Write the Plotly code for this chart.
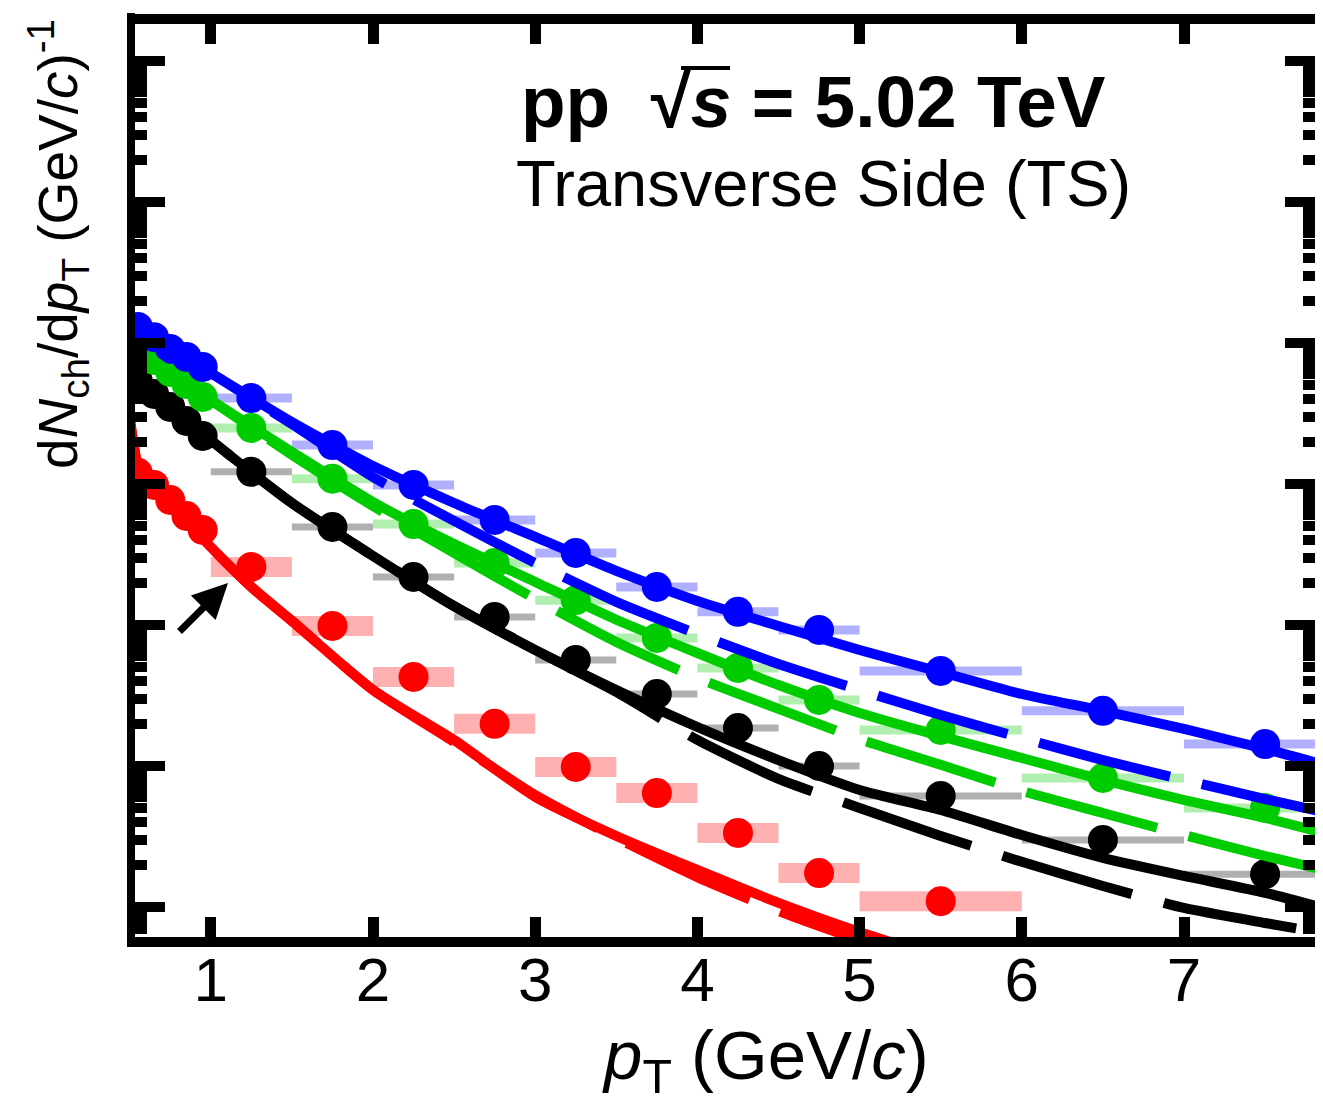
import plotly.graph_objects as go

# ---------------- data ----------------
pt_pts = [0.55, 0.65, 0.75, 0.85, 0.95, 1.25, 1.75, 2.25, 2.75, 3.25, 3.75, 4.25, 4.75, 5.5, 6.5, 7.5]
pt_half = [0.05, 0.05, 0.05, 0.05, 0.05, 0.25, 0.25, 0.25, 0.25, 0.25, 0.25, 0.25, 0.25, 0.5, 0.5, 0.5]

blue_pts = [0.130, 0.110, 0.0907, 0.0796, 0.0676, 0.0407, 0.0189, 0.00984, 0.00556, 0.00324,
            0.00186, 0.00124, 0.000922, 0.000472, 0.000246, 0.000143]
green_pts = [0.0907, 0.0758, 0.0623, 0.0512, 0.0414, 0.0250, 0.0109, 0.00520, 0.00275, 0.00150,
             0.000809, 0.000496, 0.000294, 0.000180, 8.22e-5, 5.04e-5]
black_pts = [0.0538, 0.0435, 0.0352, 0.0280, 0.0219, 0.0122, 0.00496, 0.00219, 0.00114, 0.000565,
             0.000324, 0.000186, 0.000100, 6.13e-5, 2.99e-5, 1.71e-5]
red_pts = [0.0120, 0.00984, 0.00770, 0.00593, 0.00472, 0.00258, 0.000984, 0.000428, 0.000199,
           9.84e-5, 6.43e-5, 3.35e-5, 1.74e-5, 1.10e-5]

# model curves
pt_model = [0.5, 0.75, 1.0, 1.5, 2.0, 2.5, 3.0, 3.5, 4.0, 4.5, 5.0, 5.5, 6.0, 6.5, 7.0, 7.5, 7.86]
blue_solid = [0.141, 0.0907, 0.0613, 0.0275, 0.0134, 0.00733, 0.00421, 0.00242, 0.00148, 0.000984,
              0.000665, 0.000464, 0.000324, 0.000246, 0.000183, 0.000132, 0.000102]
blue_dash = [0.141, 0.0907, 0.0613, 0.0266, 0.0112, 0.00547, 0.00275, 0.00146, 0.000863, 0.000529,
             0.000346, 0.000230, 0.000158, 0.000110, 7.96e-5, 5.83e-5, 4.72e-5]
green_solid = [0.0968, 0.0623, 0.0394, 0.0169, 0.00745, 0.00375, 0.00202, 0.00109, 0.000633, 0.000375,
               0.000238, 0.000163, 0.000114, 7.96e-5, 5.74e-5, 4.28e-5, 3.35e-5]
green_dash = [0.0968, 0.0623, 0.0394, 0.0161, 0.00698, 0.00324, 0.00153, 0.000758, 0.000421, 0.000254,
              0.000155, 0.000102, 6.65e-5, 4.64e-5, 3.24e-5, 2.30e-5, 1.83e-5]
black_solid = [0.0665, 0.0375, 0.0205, 0.00733, 0.00309, 0.00136, 0.000665, 0.000346, 0.000189, 0.000110,
               6.76e-5, 4.87e-5, 3.24e-5, 2.23e-5, 1.66e-5, 1.26e-5, 9.84e-6]
black_dash = [0.0665, 0.0375, 0.0205, 0.00733, 0.00309, 0.00136, 0.000665, 0.000335, 0.000153, 8.09e-5,
              5.04e-5, 3.19e-5, 2.09e-5, 1.41e-5, 9.84e-6, 7.70e-6, 6.54e-6]

pt_red_model = [0.5, 0.55, 0.6, 0.75, 1.0, 1.25, 1.5, 2.0, 2.5, 3.0, 3.5, 4.0, 4.5, 5.0, 5.5]
red_solid = [0.0294, 0.0134, 0.0103, 0.00733, 0.00357, 0.00186, 0.00107, 0.000346, 0.000153, 6.03e-5,
             3.19e-5, 1.83e-5, 1.07e-5, 6.65e-6, 4.35e-6]
red_dash = [0.0294, 0.0134, 0.0103, 0.00733, 0.00357, 0.00186, 0.00107, 0.000346, 0.000148, 6.23e-5,
            3.09e-5, 1.63e-5, 9.37e-6, 5.83e-6, 3.82e-6]

x_ticks = [1, 2, 3, 4, 5, 6, 7]

# ---------------- styles ----------------
FONT = "Liberation Sans, Arial, Helvetica, sans-serif"
C_BLUE, C_GREEN, C_BLACK, C_RED = "#0000FF", "#00CC00", "#000000", "#FF0000"
C_BLUE_L, C_GREEN_L, C_BLACK_L, C_RED_L = "#B0B0FF", "#B0EFB0", "#B0B0B0", "#FFB0B0"
DASH = "135px,33px"
LW = 10

fig = go.Figure()

# systematic boxes
for vals, col, th in [(black_pts, C_BLACK_L, 7), (red_pts, C_RED_L, 20),
                      (green_pts, C_GREEN_L, 9), (blue_pts, C_BLUE_L, 9)]:
    n = len(vals)
    fig.add_trace(go.Scatter(
        x=pt_pts[:n], y=vals, mode="markers",
        marker=dict(size=1, color="rgba(0,0,0,0)"),
        error_x=dict(type="data", array=pt_half[:n], thickness=th, width=0, color=col),
        hoverinfo="skip", showlegend=False))

# data points
for vals, col in [(black_pts, C_BLACK), (red_pts, C_RED), (green_pts, C_GREEN), (blue_pts, C_BLUE)]:
    n = len(vals)
    fig.add_trace(go.Scatter(
        x=pt_pts[:n], y=vals, mode="markers",
        marker=dict(size=30, color=col, line=dict(width=0)),
        showlegend=False))

# model curves
for xs, ys, col, dash in [
        (pt_red_model, red_dash, C_RED, DASH), (pt_red_model, red_solid, C_RED, "solid"),
        (pt_model, black_dash, C_BLACK, DASH), (pt_model, black_solid, C_BLACK, "solid"),
        (pt_model, green_dash, C_GREEN, DASH), (pt_model, green_solid, C_GREEN, "solid"),
        (pt_model, blue_dash, C_BLUE, DASH), (pt_model, blue_solid, C_BLUE, "solid")]:
    fig.add_trace(go.Scatter(
        x=xs, y=ys, mode="lines",
        line=dict(color=col, width=LW, dash=dash, shape="spline", smoothing=0.6),
        showlegend=False))

# ---------------- layout ----------------
# the page body adds an 8 px margin, so the figure is sized to fit inside it
OFF = 8
W, H = 1323 - 2 * OFF, 1116 - 2 * OFF
PL, PT, PR, PB = 135, 24, 1315, 937          # plot-area edges on the page
L, T = PL - OFF, PT - OFF
R, B = W - (PR - OFF), H - (PB - OFF)
PW, PH = PR - PL, PB - PT


def px(xp):
    return (xp - PL) / PW


def py(yp):
    return (PB - yp) / PH


fig.update_layout(
    width=W, height=H, autosize=False,
    margin=dict(l=L, r=R, t=T, b=B, pad=0),
    paper_bgcolor="white", plot_bgcolor="white",
    font=dict(family=FONT, color="black"),
    showlegend=False,
    xaxis=dict(
        range=[0.5327, 7.8076], tickmode="array", tickvals=x_ticks,
        ticktext=[str(t) for t in x_ticks], automargin=False,
        ticks="inside", ticklen=20, tickwidth=11, tickcolor="black",
        mirror="allticks", showline=True, linewidth=10, linecolor="black",
        showgrid=False, zeroline=False, ticklabelstandoff=-20,
        tickfont=dict(size=62, family=FONT, color="black")),
    yaxis=dict(
        type="log", range=[-5.2128, 1.2624], dtick=1, automargin=False,
        ticks="inside", ticklen=30, tickwidth=10, tickcolor="black",
        mirror="allticks", showline=False,
        showgrid=False, zeroline=False, showticklabels=False,
        minor=dict(ticks="inside", ticklen=12, tickwidth=10, tickcolor="black",
                   dtick="D1", showgrid=False)),
)

ann = []
ann.append(dict(xref="paper", yref="paper", x=px(519), y=py(102), xanchor="left", yanchor="middle",
                text="<b>pp&nbsp;&nbsp;√<i>s</i> = 5.02 TeV</b>", showarrow=False,
                font=dict(size=73, family=FONT, color="black")))
ann.append(dict(xref="paper", yref="paper", x=px(514), y=py(184), xanchor="left", yanchor="middle",
                text="Transverse Side (TS)", showarrow=False,
                font=dict(size=65, family=FONT, color="black")))
ann.append(dict(xref="paper", yref="paper", x=px(58), y=py(244), xanchor="center", yanchor="middle",
                textangle=-90,
                text="d<i>N</i><sub>ch</sub>/d<i>p</i><sub>T</sub> (GeV/<i>c</i>)<sup>-1</sup>",
                showarrow=False, font=dict(size=55, family=FONT, color="black")))
ann.append(dict(xref="paper", yref="paper", x=px(765), y=py(1060), xanchor="center", yanchor="middle",
                text="<i>p</i><sub>T</sub> (GeV/<i>c</i>)", showarrow=False,
                font=dict(size=69, family=FONT, color="black")))
ann.append(dict(xref="paper", yref="paper", x=px(228), y=py(583), text="", showarrow=True,
                ax=-50, ay=50, arrowhead=2, arrowsize=1, arrowwidth=7, arrowcolor="black"))
fig.update_layout(annotations=ann)

# overline of the square root
fig.add_shape(type="line", xref="paper", yref="paper", x0=px(681), x1=px(730), y0=py(68), y1=py(68),
              line=dict(color="black", width=4))
# left frame line (the right frame lies outside the picture)
fig.add_shape(type="line", xref="paper", yref="paper", x0=px(131), x1=px(131), y0=py(947), y1=py(13),
              line=dict(color="black", width=8))

fig.write_html("out.html")
